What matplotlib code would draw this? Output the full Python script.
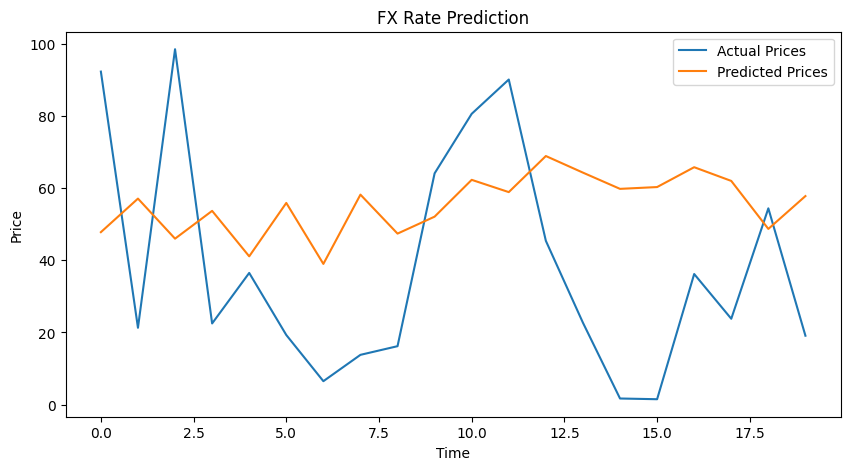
import matplotlib
matplotlib.use("Agg")
import matplotlib.pyplot as plt

time = list(range(20))
actual = [92.3, 21.3, 98.5, 22.5, 36.5, 19.3, 6.5, 13.8, 16.2, 64.1,
          80.6, 90.1, 45.4, 22.7, 1.7, 1.5, 36.2, 23.8, 54.4, 19.1]
predicted = [47.8, 57.1, 46.0, 53.7, 41.1, 55.9, 39.0, 58.2, 47.4, 52.1,
             62.3, 58.9, 68.9, 64.3, 59.8, 60.3, 65.8, 62.0, 48.7, 57.8]

plt.figure(figsize=(10, 5))
plt.plot(time, actual, label="Actual Prices")
plt.plot(time, predicted, label="Predicted Prices")
plt.title("FX Rate Prediction")
plt.xlabel("Time")
plt.ylabel("Price")
plt.legend()
plt.savefig("out.png", bbox_inches="tight")
plt.close()
